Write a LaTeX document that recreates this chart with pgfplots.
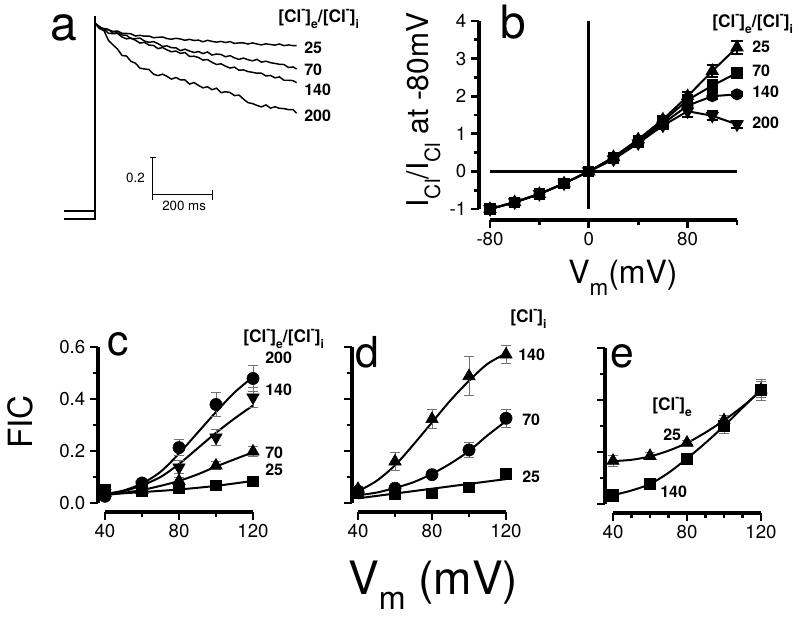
\documentclass[border=0pt]{standalone}
\usepackage{fontspec}
\setmainfont{TeX Gyre Heros}
\usepackage{graphicx}
\usepackage{pgfplots}
\pgfplotsset{compat=1.18}

\newcommand{\sub}[1]{\raisebox{-0.4em}{\scalebox{0.7}{#1}}}
\newcommand{\subb}[1]{\raisebox{-0.33em}{\scalebox{0.7}{#1}}}
\newcommand{\sups}[1]{\raisebox{0.5em}{\scalebox{0.7}{#1}}}
\newcommand{\Cle}{[Cl\sups{-}]\sub{e}}
\newcommand{\Cli}{[Cl\sups{-}]\sub{i}}
\newcommand{\fsz}[1]{\fontsize{#1pt}{#1pt}\selectfont}

\pgfplotsset{
  base/.style={scale only axis, clip=false, axis lines*=left,
    axis line style={line width=2.3pt,-},
    tick style={line width=2pt,black},
    tick align=outside, major tick length=6pt, minor tick length=4pt,
    tick label style={font=\fsz{14}},
    /pgf/number format/assume math mode=true},
  cde/.style={base, width=111pt, height=117pt, xmin=40,xmax=120,ymin=0,ymax=0.6,
    xtick={40,80,120}, xticklabels={40,80,120},
    ytick={0,0.2,0.4,0.6}, minor ytick={0.1,0.3,0.5},
    axis x line shift=6.75pt},
  eb/.style={error bars/.cd, y dir=both, y explicit,
    error bar style={line width=0.7pt,black!55},
    error mark options={rotate=90,mark size=3.5pt,line width=0.7pt,black!55}},
  ebb/.style={error bars/.cd, y dir=both, y explicit,
    error bar style={line width=1.6pt,black},
    error mark options={rotate=90,mark size=4.2pt,line width=1.6pt,black}},
}

\begin{document}
\begin{tikzpicture}
\path[use as bounding box] (0,0) rectangle (600pt,-464.25pt);

%% ---------------- panel a ----------------
\begin{axis}[hide axis, scale only axis, clip=false,
  at={(46.5pt,-171.19pt)}, anchor=south west,
  width=182.25pt, height=162.34pt,
  xmin=-110, xmax=700, ymin=-0.05, ymax=1.12]
\addplot[line width=1.1pt] coordinates {(-103,0.043) (0,0.043)};
\addplot[line width=1.1pt] coordinates {(-103,0) (0,0) (0,1.097)};
% 25
\addplot[line width=1.1pt] coordinates {
(0,1.058) (15,1.041) (30,1.024) (45,1.022) (60,1.014) (75,1.016) (90,1.004) (105,1.003)
(120,1.001) (135,0.989) (150,0.993) (165,0.988) (180,0.989) (195,0.980) (210,0.982)
(225,0.984) (240,0.975) (255,0.972) (270,0.977) (285,0.973) (300,0.966) (315,0.971)
(330,0.965) (345,0.967) (360,0.958) (375,0.966) (390,0.960) (405,0.956) (420,0.960)
(435,0.954) (450,0.959) (465,0.949) (480,0.952) (495,0.952) (510,0.946) (525,0.952)
(540,0.946) (555,0.941) (570,0.947) (585,0.943) (600,0.940) (615,0.946) (630,0.937)
(645,0.941) (660,0.937) (672,0.937)};
% 70
\addplot[line width=1.1pt] coordinates {
(0,1.058) (15,1.034) (30,1.030) (45,1.025) (60,1.004) (75,1.007) (90,0.995) (105,0.993)
(120,0.975) (135,0.975) (150,0.978) (165,0.962) (180,0.955) (195,0.959) (210,0.948)
(225,0.933) (240,0.936) (255,0.926) (270,0.925) (285,0.910) (300,0.918) (315,0.908)
(330,0.900) (345,0.905) (360,0.894) (375,0.903) (390,0.886) (405,0.892) (420,0.889)
(435,0.877) (450,0.883) (465,0.871) (480,0.863) (495,0.870) (510,0.861) (525,0.855)
(540,0.863) (555,0.848) (570,0.853) (585,0.845) (600,0.841) (615,0.836) (630,0.835)
(645,0.819) (660,0.822) (672,0.811)};
% 140
\addplot[line width=1.1pt] coordinates {
(0,1.058) (15,1.031) (30,1.025) (45,1.004) (60,1.002) (75,1.003) (90,0.984) (105,0.974)
(120,0.978) (135,0.966) (150,0.951) (165,0.955) (180,0.940) (195,0.938) (210,0.921)
(225,0.927) (240,0.914) (255,0.904) (270,0.908) (285,0.895) (300,0.900) (315,0.879)
(330,0.880) (345,0.873) (360,0.859) (375,0.862) (390,0.847) (405,0.835) (420,0.839)
(435,0.826) (450,0.816) (465,0.821) (480,0.804) (495,0.806) (510,0.797) (525,0.793)
(540,0.788) (555,0.788) (570,0.773) (585,0.776) (600,0.763) (615,0.768) (630,0.750)
(645,0.750) (660,0.748) (672,0.737)};
% 200
\addplot[line width=1.1pt] coordinates {
(0,1.058) (15,1.030) (30,1.018) (45,0.965) (60,0.941) (75,0.919) (90,0.884) (105,0.881)
(120,0.852) (135,0.842) (150,0.815) (165,0.811) (180,0.808) (195,0.783) (210,0.775)
(225,0.783) (240,0.771) (255,0.756) (270,0.765) (285,0.752) (300,0.752) (315,0.729)
(330,0.738) (345,0.722) (360,0.709) (375,0.715) (390,0.699) (405,0.707) (420,0.683)
(435,0.688) (450,0.684) (465,0.667) (480,0.670) (495,0.648) (510,0.629) (525,0.624)
(540,0.614) (555,0.606) (570,0.617) (585,0.599) (600,0.607) (615,0.598) (630,0.597)
(645,0.591) (660,0.591) (672,0.572)};
% scale bar
\draw[line width=0.8pt] (axis cs:193,0.33) -- (axis cs:193,0.105);
\draw[line width=0.8pt] (axis cs:193,0.13) -- (axis cs:393,0.13);
\draw[line width=0.8pt] (axis cs:183,0.33) -- (axis cs:203,0.33);
\draw[line width=0.8pt] (axis cs:393,0.105) -- (axis cs:393,0.155);
\end{axis}

%% ---------------- panel b ----------------
\begin{axis}[base, at={(367.5pt,-156.75pt)}, anchor=south west,
  width=185.25pt, height=141pt,
  xmin=-80, xmax=120, ymin=-1, ymax=4,
  axis x line shift=8.25pt, axis y line shift=8.25pt,
  xtick={-80,0,80}, xticklabels={-80,0,80}, minor xtick={-40,40,120},
  ytick={-1,0,1,2,3,4}, yticklabels={-1,0,1,2,3,4},
  minor ytick={-0.5,0.5,1.5,2.5,3.5}]
\draw[line width=2pt] (axis cs:0,-1) -- (axis cs:0,4);
\draw[line width=2pt] (axis cs:-80,0) -- (axis cs:120,0);
\addplot[line width=1.5pt, mark=triangle*, mark size=4.4pt, ebb] coordinates {
(-80,-1)+-(0,0.05) (-60,-0.82)+-(0,0.08) (-40,-0.6)+-(0,0.08) (-20,-0.32)+-(0,0.08)
(0,0)+-(0,0.03) (20,0.38)+-(0,0.08) (40,0.85)+-(0,0.1) (60,1.38)+-(0,0.1)
(80,2.0)+-(0,0.12) (100,2.67)+-(0,0.15) (120,3.3)+-(0,0.17)};
\addplot[line width=1.5pt, mark=square*, mark size=3.5pt, ebb] coordinates {
(-80,-1)+-(0,0.05) (-60,-0.82)+-(0,0.08) (-40,-0.6)+-(0,0.08) (-20,-0.32)+-(0,0.08)
(0,0)+-(0,0.03) (20,0.36)+-(0,0.08) (40,0.82)+-(0,0.1) (60,1.33)+-(0,0.1)
(80,1.9)+-(0,0.1) (100,2.28)+-(0,0.15) (120,2.62)+-(0,0.08)};
\addplot[line width=1.5pt, mark=*, mark size=3.7pt, ebb] coordinates {
(-80,-1)+-(0,0.05) (-60,-0.82)+-(0,0.08) (-40,-0.6)+-(0,0.08) (-20,-0.32)+-(0,0.08)
(0,0)+-(0,0.03) (20,0.33)+-(0,0.08) (40,0.78)+-(0,0.1) (60,1.27)+-(0,0.1)
(80,1.75)+-(0,0.1) (100,2.0)+-(0,0.08) (120,2.05)+-(0,0.05)};
\addplot[line width=1.5pt, mark=triangle*, mark size=4.4pt, mark options={rotate=180}, ebb] coordinates {
(-80,-1)+-(0,0.05) (-60,-0.82)+-(0,0.08) (-40,-0.6)+-(0,0.08) (-20,-0.32)+-(0,0.08)
(0,0)+-(0,0.03) (20,0.32)+-(0,0.08) (40,0.75)+-(0,0.1) (60,1.22)+-(0,0.1)
(80,1.6)+-(0,0.15) (100,1.48)+-(0,0.12) (120,1.25)+-(0,0.1)};
\end{axis}

%% ---------------- panel c ----------------
\begin{axis}[cde, at={(78.75pt,-377.25pt)}, anchor=south west,
  minor xtick={60,100}, yticklabels={0.0,0.2,0.4,0.6}, axis y line shift=5.25pt]
\addplot[line width=1.5pt, smooth] coordinates {(40,0.035) (50,0.048) (60,0.075) (70,0.12) (80,0.19) (90,0.27) (100,0.35) (110,0.425) (120,0.485)};
\addplot[line width=1.5pt, smooth] coordinates {(40,0.033) (50,0.045) (60,0.068) (70,0.10) (80,0.15) (90,0.21) (100,0.27) (110,0.325) (120,0.375)};
\addplot[line width=1.5pt, smooth] coordinates {(40,0.03) (50,0.039) (60,0.05) (70,0.066) (80,0.085) (90,0.11) (100,0.14) (110,0.168) (120,0.195)};
\addplot[line width=1.5pt, smooth] coordinates {(40,0.033) (60,0.042) (80,0.052) (100,0.066) (120,0.085)};
\addplot[only marks, mark=*, mark size=4.6pt, eb] coordinates {
(40,0.026)+-(0,0.01) (60,0.077)+-(0,0.01) (80,0.213)+-(0,0.03) (100,0.379)+-(0,0.045) (120,0.479)+-(0,0.05)};
\addplot[only marks, mark=triangle*, mark size=5.4pt, mark options={rotate=180}, eb] coordinates {
(40,0.038)+-(0,0.01) (60,0.07)+-(0,0.01) (80,0.137)+-(0,0.025) (100,0.252)+-(0,0.03) (120,0.406)+-(0,0.04)};
\addplot[only marks, mark=triangle*, mark size=5.4pt, eb] coordinates {
(40,0.038)+-(0,0.01) (60,0.05)+-(0,0.01) (80,0.085)+-(0,0.015) (100,0.144)+-(0,0.015) (120,0.198)+-(0,0.02)};
\addplot[only marks, mark=square*, mark size=4pt, eb] coordinates {
(40,0.05)+-(0,0.01) (60,0.045)+-(0,0.01) (80,0.057)+-(0,0.01) (100,0.068)+-(0,0.01) (120,0.083)+-(0,0.02)};
\end{axis}

%% ---------------- panel d ----------------
\begin{axis}[cde, at={(268.5pt,-377.25pt)}, anchor=south west,
  minor xtick={60,100}, yticklabels={}, axis y line shift=4.5pt]
\addplot[line width=1.5pt, smooth] coordinates {(40,0.045) (50,0.085) (60,0.145) (70,0.225) (80,0.31) (90,0.395) (100,0.47) (110,0.535) (120,0.575)};
\addplot[line width=1.5pt, smooth] coordinates {(40,0.03) (50,0.04) (60,0.058) (70,0.08) (80,0.112) (90,0.152) (100,0.2) (110,0.26) (120,0.315)};
\addplot[line width=1.5pt] coordinates {(40,0.018) (120,0.092)};
\addplot[only marks, mark=triangle*, mark size=5.4pt, eb] coordinates {
(40,0.054)+-(0,0.01) (60,0.16)+-(0,0.035) (80,0.323)+-(0,0.035) (100,0.488)+-(0,0.075) (120,0.571)+-(0,0.035)};
\addplot[only marks, mark=*, mark size=4.6pt, eb] coordinates {
(40,0.045)+-(0,0.01) (60,0.057)+-(0,0.015) (80,0.109)+-(0,0.015) (100,0.204)+-(0,0.03) (120,0.326)+-(0,0.035)};
\addplot[only marks, mark=square*, mark size=4pt, eb] coordinates {
(40,0.038)+-(0,0.005) (60,0.034)+-(0,0.005) (80,0.038)+-(0,0.005) (100,0.06)+-(0,0.008) (120,0.112)+-(0,0.015)};
\end{axis}

%% ---------------- panel e ----------------
\begin{axis}[cde, at={(459.75pt,-378pt)}, anchor=south west,
  minor xtick={50,60,70,90,100,110}, yticklabels={}, axis y line shift=6pt]
\addplot[line width=1.5pt, smooth] coordinates {(40,0.165) (50,0.170) (60,0.183) (70,0.205) (80,0.235) (90,0.275) (100,0.322) (110,0.375) (120,0.435)};
\addplot[line width=1.5pt, smooth] coordinates {(40,0.034) (50,0.052) (60,0.077) (70,0.12) (80,0.175) (90,0.235) (100,0.30) (110,0.37) (120,0.44)};
\addplot[only marks, mark=triangle*, mark size=5.4pt, eb] coordinates {
(40,0.166)+-(0,0.02) (60,0.185)+-(0,0.015) (80,0.236)+-(0,0.01) (100,0.322)+-(0,0.02) (120,0.44)+-(0,0.04)};
\addplot[only marks, mark=square*, mark size=4.2pt, eb] coordinates {
(40,0.034)+-(0,0.005) (60,0.077)+-(0,0.01) (80,0.175)+-(0,0.01) (100,0.30)+-(0,0.03) (120,0.44)+-(0,0.03)};
\end{axis}

%% ---------------- texts (pixel coordinates) ----------------
\begin{scope}[x=0.75pt,y=-0.75pt]
\node[anchor=base west, inner sep=0, font=\fsz{36}] at (50,40) {a};
\node[anchor=base west, inner sep=0, font=\fsz{13}\bfseries] at (278,22) {\Cle/\Cli};
\node[anchor=base west, inner sep=0, font=\fsz{12}\bfseries] at (304,53) {25};
\node[anchor=base west, inner sep=0, font=\fsz{12}\bfseries] at (304,75) {70};
\node[anchor=base west, inner sep=0, font=\fsz{12}\bfseries] at (304,95) {140};
\node[anchor=base west, inner sep=0, font=\fsz{12}\bfseries] at (304,121) {200};
\node[anchor=base east, inner sep=0, font=\fsz{10}] at (145,182) {0.2};
\node[anchor=base west, inner sep=0, font=\fsz{10}] at (162,210) {200 ms};

\node[anchor=base west, inner sep=0, font=\fsz{34.5}] at (500,38) {b};
\node[anchor=base west, inner sep=0, font=\fsz{13}\bfseries] at (712,27) {\Cle/\Cli};
\node[anchor=base west, inner sep=0, font=\fsz{12}\bfseries] at (752,52) {25};
\node[anchor=base west, inner sep=0, font=\fsz{12}\bfseries] at (752,76) {70};
\node[anchor=base west, inner sep=0, font=\fsz{12}\bfseries] at (752,97) {140};
\node[anchor=base west, inner sep=0, font=\fsz{12}\bfseries] at (752,128) {200};
\node[rotate=90, anchor=base, inner sep=0, font=\fsz{22.5}] at (428,110) {I\sub{Cl}/I\sub{Cl} at -80mV};
\node[anchor=base west, inner sep=0, font=\fsz{24}] at (568,283) {V\sub{m}(mV)};

\node[anchor=base west, inner sep=0, font=\fsz{32}] at (107,355) {c};
\node[anchor=base west, inner sep=0, font=\fsz{13}\bfseries] at (243,342) {\Cle/\Cli};
\node[anchor=base west, inner sep=0, font=\fsz{12}\bfseries] at (265,363) {200};
\node[anchor=base west, inner sep=0, font=\fsz{12}\bfseries] at (265,395) {140};
\node[anchor=base west, inner sep=0, font=\fsz{12}\bfseries] at (265,458) {70};
\node[anchor=base west, inner sep=0, font=\fsz{12}\bfseries] at (265,475) {25};

\node[anchor=base west, inner sep=0, font=\fsz{32}] at (355,367) {d};
\node[anchor=base west, inner sep=0, font=\fsz{13}\bfseries] at (510,322) {\Cli};
\node[anchor=base west, inner sep=0, font=\fsz{12}\bfseries] at (518,360) {140};
\node[anchor=base west, inner sep=0, font=\fsz{12}\bfseries] at (522,425) {70};
\node[anchor=base west, inner sep=0, font=\fsz{12}\bfseries] at (522,482) {25};

\node[anchor=base west, inner sep=0, font=\fsz{32}] at (610,367) {e};
\node[anchor=base west, inner sep=0, font=\fsz{13}\bfseries] at (652,410) {\Cle};
\node[anchor=base west, inner sep=0, font=\fsz{12}\bfseries] at (663,440) {25};
\node[anchor=base west, inner sep=0, font=\fsz{12}\bfseries] at (660,497) {140};

\node[rotate=90, anchor=base, inner sep=0, font=\fsz{25}] at (32,422) {FIC};
\node[anchor=base west, inner sep=0, font=\fsz{34.5}] at (348,594) {V\subb{m} (mV)};
\end{scope}
\end{tikzpicture}
\end{document}
